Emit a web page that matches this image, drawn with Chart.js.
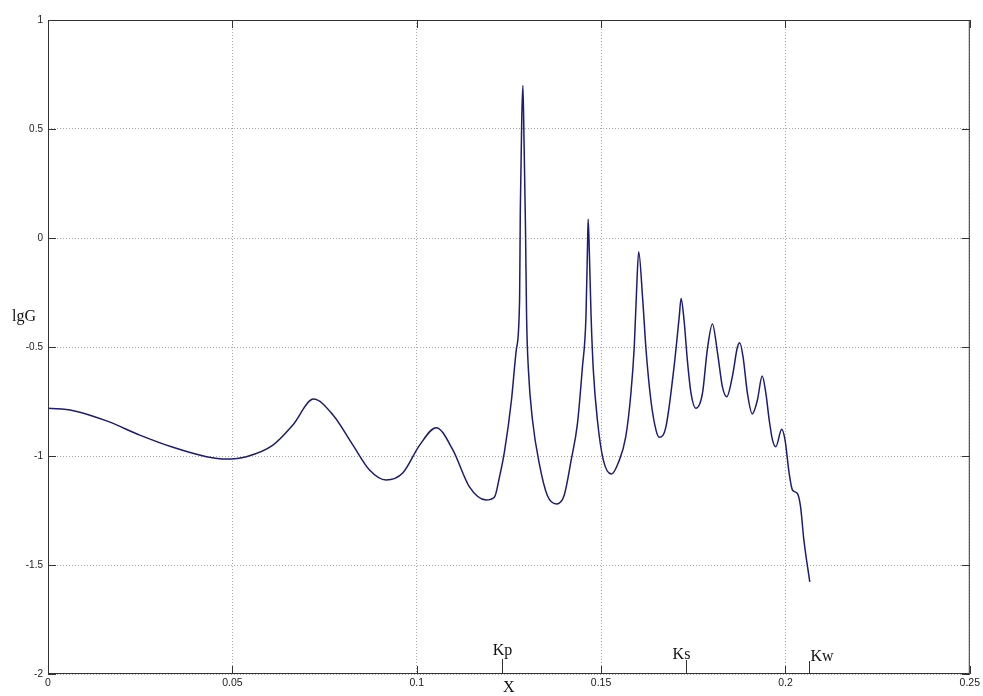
<!DOCTYPE html>
<html>
<head>
<meta charset="utf-8">
<title>lgG</title>
<script src="https://cdn.jsdelivr.net/npm/chart.js@4.4.0/dist/chart.umd.min.js"></script>
<style>
  html, body { margin: 0; padding: 0; background: #fff; }
  #wrap { width: 983px; height: 696px; }
</style>
</head>
<body>
<div id="wrap"><canvas id="chart"></canvas></div>
<script>
// values
var xValues = [0, 0.0069, 0.0159, 0.0249, 0.0339, 0.043, 0.0484, 0.0538, 0.061, 0.0664,
  0.072, 0.0773, 0.0827, 0.0872, 0.0917, 0.0962, 0.1008, 0.1053, 0.1098, 0.1143,
  0.1188, 0.1211, 0.1224, 0.1238, 0.1257, 0.127, 0.1279, 0.1281, 0.1285, 0.1288,
  0.1291, 0.1295, 0.1298, 0.1303, 0.1314, 0.1333, 0.1354, 0.1379, 0.14, 0.1419,
  0.1436, 0.1449, 0.1459, 0.1463, 0.1465, 0.1468, 0.1473, 0.1479, 0.149, 0.1506,
  0.1528, 0.1547, 0.1567, 0.1581, 0.159, 0.1596, 0.1602, 0.1613, 0.1622, 0.1635,
  0.1649, 0.1658, 0.1676, 0.1698, 0.1712, 0.1717, 0.1725, 0.1734, 0.1744, 0.1757,
  0.1775, 0.1788, 0.1802, 0.1816, 0.1829, 0.1841, 0.1856, 0.187, 0.1876, 0.1885,
  0.1897, 0.191, 0.1924, 0.1937, 0.1947, 0.1956, 0.1965, 0.1974, 0.199, 0.1999,
  0.201, 0.2019, 0.2032, 0.2041, 0.205, 0.2066];
var lgGValues = [-0.781, -0.792, -0.839, -0.904, -0.96, -1.003, -1.014, -1.003, -0.95, -0.858,
  -0.739, -0.812, -0.95, -1.064, -1.11, -1.078, -0.95, -0.87, -0.972, -1.142,
  -1.202, -1.188, -1.1, -0.98, -0.743, -0.514, -0.284, 0.128, 0.555, 0.7,
  0.45, 0.05, -0.362, -0.606, -0.835, -1.04, -1.18, -1.22, -1.18, -1.018,
  -0.85, -0.6, -0.362, -0.055, 0.086, -0.055, -0.362, -0.606, -0.835, -1.018,
  -1.083, -1.03, -0.911, -0.711, -0.499, -0.253, -0.063, -0.284, -0.514, -0.743,
  -0.881, -0.914, -0.865, -0.59, -0.361, -0.277, -0.376, -0.56, -0.713, -0.781,
  -0.713, -0.514, -0.394, -0.529, -0.682, -0.728, -0.636, -0.499, -0.48, -0.544,
  -0.713, -0.807, -0.743, -0.633, -0.713, -0.835, -0.927, -0.957, -0.877, -0.927,
  -1.078, -1.156, -1.171, -1.232, -1.385, -1.577];

var xTicks = [0, 0.05, 0.1, 0.15, 0.2, 0.25];
var yTicks = [-2, -1.5, -1, -0.5, 0, 0.5, 1];

var markerNames = ['Kp', 'Ks', 'Kw'];
var markerX = [0.1231, 0.1729, 0.2064];

var xTitle = 'X';
var yTitle = 'lgG';

var points = xValues.map(function (x, i) { return { x: x, y: lgGValues[i] }; });

// frame, inward ticks, K markers and axis titles (matlab look)
var decorPlugin = {
  id: 'decor',
  afterDatasetsDraw: function (chart) {
    var ctx = chart.ctx;
    var a = chart.chartArea;
    var xs = chart.scales.x, ys = chart.scales.y;
    ctx.save();
    ctx.strokeStyle = '#333';
    ctx.lineWidth = 1;
    ctx.strokeRect(a.left + 0.5, a.top + 0.5, a.right - a.left - 1, a.bottom - a.top - 1);

    ctx.beginPath();
    xTicks.forEach(function (v) {
      var px = Math.round(xs.getPixelForValue(v)) + 0.5;
      ctx.moveTo(px, a.bottom); ctx.lineTo(px, a.bottom - 8);
      ctx.moveTo(px, a.top); ctx.lineTo(px, a.top + 8);
    });
    yTicks.forEach(function (v) {
      var py = Math.round(ys.getPixelForValue(v)) + 0.5;
      ctx.moveTo(a.left, py); ctx.lineTo(a.left + 8, py);
      ctx.moveTo(a.right, py); ctx.lineTo(a.right - 8, py);
    });
    ctx.stroke();

    // K markers on the bottom axis
    var tickLen = [15, 14, 13];
    var labelDx = [0, -5, 1];
    var labelUp = [19, 15, 13];
    ctx.font = '16px "Liberation Serif", "DejaVu Serif", serif';
    ctx.fillStyle = '#111';
    ctx.textBaseline = 'alphabetic';
    markerNames.forEach(function (name, i) {
      var px = Math.round(xs.getPixelForValue(markerX[i])) + 0.5;
      ctx.beginPath();
      ctx.moveTo(px, a.bottom);
      ctx.lineTo(px, a.bottom - tickLen[i]);
      ctx.stroke();
      ctx.textAlign = i === 2 ? 'left' : 'center';
      ctx.fillText(name, px + labelDx[i], a.bottom - labelUp[i]);
    });

    // axis titles
    ctx.textAlign = 'center';
    ctx.textBaseline = 'middle';
    ctx.fillText(xTitle, (a.left + a.right) / 2, 688);
    ctx.fillText(yTitle, 24, 317);
    ctx.restore();
  }
};

var tickFont = { family: '"Liberation Sans", Arial, sans-serif', size: 10.5 };

new Chart(document.getElementById('chart').getContext('2d'), {
  type: 'line',
  data: {
    datasets: [{
      data: points,
      borderColor: '#1c1c72',
      borderWidth: 1.5,
      pointRadius: 0,
      fill: false,
      cubicInterpolationMode: 'monotone'
    }]
  },
  options: {
    responsive: true,
    maintainAspectRatio: false,
    animation: false,
    layout: { padding: { top: 20, right: 12, left: 0, bottom: 0 } },
    plugins: { legend: { display: false }, tooltip: { enabled: false } },
    scales: {
      x: {
        type: 'linear',
        min: 0,
        max: 0.25,
        afterBuildTicks: function (s) { s.ticks = xTicks.map(function (v) { return { value: v }; }); },
        afterFit: function (s) { s.height = 22; },
        ticks: {
          autoSkip: false, maxRotation: 0, padding: 3,
          font: tickFont, color: '#222',
          callback: function (v) { return String(v); }
        },
        grid: { color: '#a8a8a8', lineWidth: 1, drawTicks: false },
        border: { display: false, dash: [1, 2] }
      },
      y: {
        min: -2,
        max: 1,
        afterBuildTicks: function (s) { s.ticks = yTicks.map(function (v) { return { value: v }; }); },
        afterFit: function (s) { s.width = 48; },
        ticks: {
          autoSkip: false, padding: 5,
          font: { family: '"Liberation Sans", Arial, sans-serif', size: 10 }, color: '#222',
          callback: function (v) { return String(v); }
        },
        grid: { color: '#a8a8a8', lineWidth: 1, drawTicks: false },
        border: { display: false, dash: [1, 2] }
      }
    }
  },
  plugins: [decorPlugin]
});
</script>
</body>
</html>
